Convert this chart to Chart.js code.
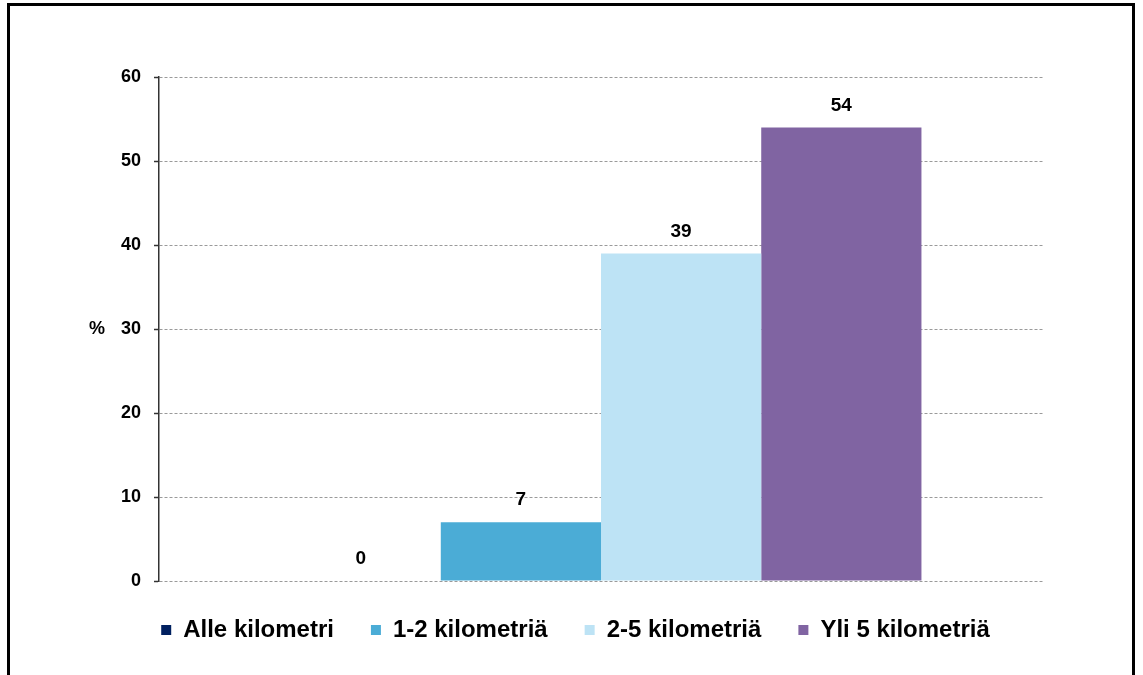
<!DOCTYPE html>
<html>
<head>
<meta charset="utf-8">
<script src="https://cdn.jsdelivr.net/npm/chart.js@4/dist/chart.umd.min.js"></script>
<style>
  html, body { margin: 0; padding: 0; background: #fff; }
  #wrap { position: relative; width: 1143px; height: 675px; overflow: hidden; }
  #frame { position: absolute; left: 7px; top: 3px; width: 1128px; height: 700px; border: 3px solid #000; box-sizing: border-box; }
  canvas { position: absolute; left: 0; top: 0; }
</style>
</head>
<body>
<div id="wrap">
  <div id="frame"></div>
  <canvas id="grafico" width="1143" height="675"></canvas>
</div>
<script>
// Dati del grafico
const categorie = [''];
const serieNomi = ['Alle kilometri', '1-2 kilometriä', '2-5 kilometriä', 'Yli 5 kilometriä'];
const serieValori = [0, 7, 39, 54];
const serieColori = ['#002060', '#4BACD6', '#BDE3F5', '#8064A2'];

const fontBase = '"Liberation Sans", Arial, sans-serif';

// Plugin per le etichette sopra le barre e il titolo "%"
const etichettePlugin = {
    id: 'etichette',
    afterDatasetsDraw(chart) {
        const ctx = chart.ctx;
        ctx.save();
        ctx.font = 'bold 19px ' + fontBase;
        ctx.fillStyle = '#000';
        ctx.textAlign = 'center';
        ctx.textBaseline = 'middle';
        chart.data.datasets.forEach((ds, i) => {
            const meta = chart.getDatasetMeta(i);
            meta.data.forEach((bar, j) => {
                ctx.fillText(String(ds.data[j]), bar.x, bar.y - 22);
            });
        });
        // titolo asse Y
        const area = chart.chartArea;
        ctx.font = 'bold 18px ' + fontBase;
        ctx.fillText('%', 97, (area.top + area.bottom) / 2);
        ctx.restore();
    }
};

const ctx = document.getElementById('grafico').getContext('2d');
new Chart(ctx, {
    type: 'bar',
    data: {
        labels: categorie,
        datasets: serieNomi.map((nome, i) => ({
            label: nome,
            data: [serieValori[i]],
            backgroundColor: serieColori[i],
            borderWidth: 0
        }))
    },
    options: {
        responsive: false,
        animation: false,
        categoryPercentage: 0.725,
        barPercentage: 1,
        layout: {
            padding: { left: 108, right: 100, top: 77, bottom: 23 }
        },
        scales: {
            x: {
                display: false
            },
            y: {
                min: 0,
                max: 60,
                ticks: {
                    stepSize: 10,
                    padding: 13,
                    color: '#000',
                    font: { family: fontBase, size: 18, weight: 'bold' }
                },
                border: { display: true, color: '#333', width: 1.5, dash: [3, 2] },
                grid: {
                    color: '#9a9a9a',
                    tickLength: 5,
                    tickColor: '#333',
                    tickBorderDash: [],
                    tickWidth: 1.5
                }
            }
        },
        plugins: {
            legend: {
                position: 'bottom',
                labels: {
                    boxWidth: 10,
                    boxHeight: 10,
                    padding: 37,
                    color: '#000',
                    font: { family: fontBase, size: 24, weight: 'bold' }
                }
            },
            tooltip: { enabled: false }
        }
    },
    plugins: [etichettePlugin]
});
</script>
</body>
</html>
